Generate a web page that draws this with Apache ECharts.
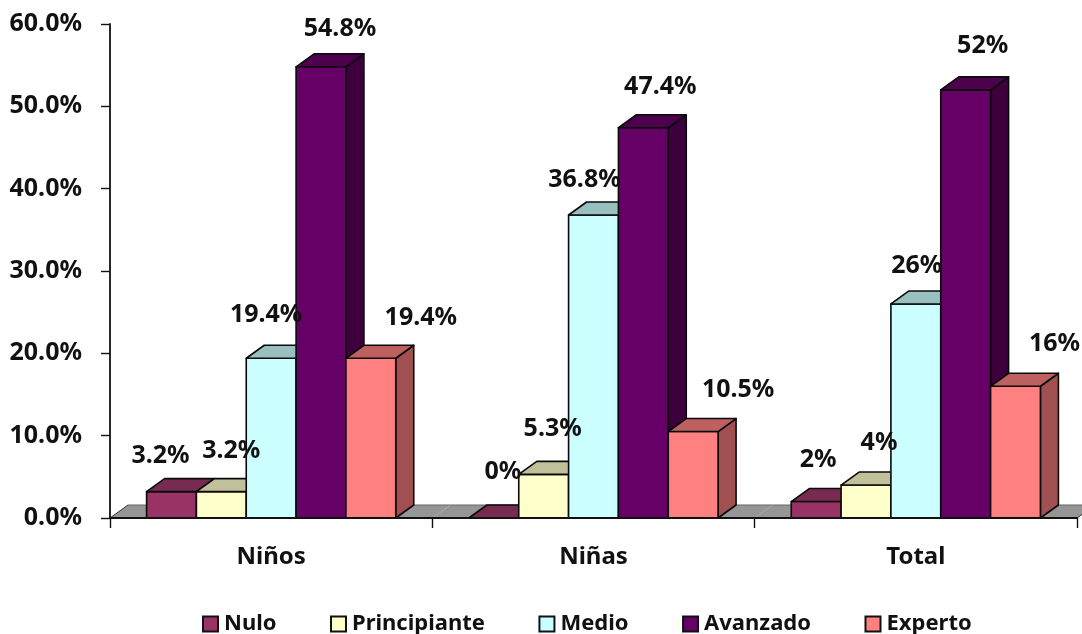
<!DOCTYPE html>
<html>
<head>
<meta charset="utf-8">
<style>html,body{margin:0;padding:0;background:#fff}#c{width:1082px;height:634px}</style>
<script src="https://cdn.jsdelivr.net/npm/echarts@6/dist/echarts.min.js"></script>
</head>
<body>
<div id="c"></div>
<script>
const categories = ['Niños', 'Niñas', 'Total'];
const seriesNames = ['Nulo', 'Principiante', 'Medio', 'Avanzado', 'Experto'];
const nulo = [3.2, 0, 2];
const principiante = [3.2, 5.3, 4];
const medio = [19.4, 36.8, 26];
const avanzado = [54.8, 47.4, 52];
const experto = [19.4, 10.5, 16];
const yTicks = { min: 0, max: 60, interval: 10 };

const allValues = [nulo, principiante, medio, avanzado, experto];
const front = ['#993366', '#FFFFCC', '#CCFFFF', '#660066', '#FF8080'];
const top3d = ['#772B50', '#C0C09A', '#99BFBF', '#4D004D', '#BF6060'];
const side3d = ['#662244', '#A8A888', '#88AAAA', '#3D003D', '#A05050'];
// Manual placement of each data label relative to its bar (as Excel had them dragged)
const labelNudge = [
  [[-11, -36], [10, -41], [-5, -43], [19, -38], [50, -40]],
  [[9, -46], [9, -45], [-9, -35], [17, -41], [45, -42]],
  [[2, -42], [13, -42], [1, -38], [17, -44], [39, -42]]
];
const DX = 18, DY = 13, FONT = '"Noto Sans"';
const EDGE = { stroke: '#0a0a0a', lineWidth: 1.6, lineJoin: 'round' };

function poly(points, fill, z2) {
  return { type: 'polygon', z2: z2 || 0, shape: { points }, style: Object.assign({ fill }, EDGE) };
}

function barRenderer(si) {
  return function (params, api) {
    const i = api.value(0), v = api.value(1);
    const band = api.size([1, 0])[0];
    const w = band * 0.1546;
    const base = api.coord([i, 0]);
    const head = api.coord([i, v]);
    const x0 = base[0] - 2.5 * w + si * w, x1 = x0 + w;
    const yb = base[1], yt = head[1];
    const kids = [];
    if (v > 0) {
      kids.push(poly([[x1, yt], [x1 + DX, yt - DY], [x1 + DX, yb - DY], [x1, yb]], side3d[si]));
      kids.push(poly([[x0, yb], [x1, yb], [x1, yt], [x0, yt]], front[si]));
    }
    kids.push(poly([[x0, yt], [x0 + DX, yt - DY], [x1 + DX, yt - DY], [x1, yt]], top3d[si]));
    const n = labelNudge[i][si];
    kids.push({
      type: 'text', z2: 100,
      style: {
        x: (x0 + x1) / 2 + n[0], y: yt + n[1],
        text: v + '%', align: 'center', verticalAlign: 'middle',
        font: 'bold 25px ' + FONT, fill: '#111'
      }
    });
    return { type: 'group', children: kids };
  };
}

function floorRenderer(params, api) {
  const i = api.value(0);
  const band = api.size([1, 0])[0];
  const c = api.coord([i, 0]);
  const x0 = c[0] - band / 2, x1 = c[0] + band / 2, y = c[1];
  const kids = [{
    type: 'polygon',
    shape: { points: [[x0, y], [x0 + DX, y - DY], [x1 + DX, y - DY], [x1, y]] },
    style: { fill: '#969696', stroke: null }
  }, {
    type: 'line', shape: { x1: x0 + DX, y1: y - DY, x2: x1 + DX, y2: y - DY },
    style: { stroke: '#666', lineWidth: 1 }
  }];
  if (i === 0) kids.push({ type: 'line', shape: { x1: x0, y1: y, x2: x0 + DX, y2: y - DY }, style: { stroke: '#333', lineWidth: 1 } });
  if (i === categories.length - 1) kids.push({ type: 'line', shape: { x1: x1, y1: y, x2: x1 + DX, y2: y - DY }, style: { stroke: '#333', lineWidth: 1 } });
  return { type: 'group', children: kids };
}

const series = [{
  type: 'custom', name: '__floor', renderItem: floorRenderer, z: 1, silent: true,
  data: categories.map((c, i) => [i]), encode: { x: 0 }
}].concat(seriesNames.map((name, si) => ({
  type: 'custom', name, z: 2, renderItem: barRenderer(si),
  itemStyle: { color: front[si] },
  data: allValues[si].map((v, i) => [i, v]), encode: { x: 0, y: 1 }
})));

const chart = echarts.init(document.getElementById('c'), null, { renderer: 'canvas' });
chart.setOption({
  animation: false,
  backgroundColor: '#fff',
  grid: { left: 110, right: 5, top: 24, bottom: 116 },
  xAxis: {
    type: 'category', data: categories, z: 5,
    axisLine: { lineStyle: { color: '#111', width: 1.8 } },
    axisTick: { show: true, alignWithLabel: false, length: 10, lineStyle: { color: '#111', width: 1.4 } },
    axisLabel: { color: '#111', fontFamily: FONT, fontWeight: 'bold', fontSize: 24, margin: 27 }
  },
  yAxis: {
    type: 'value', min: yTicks.min, max: yTicks.max, interval: yTicks.interval, z: 5,
    splitLine: { show: false },
    axisLine: { show: true, lineStyle: { color: '#111', width: 1.8 } },
    axisTick: { show: true, length: 9, lineStyle: { color: '#111', width: 1.4 } },
    axisLabel: { color: '#111', fontFamily: FONT, fontWeight: 'bold', fontSize: 25, margin: 28, padding: [4, 0, 0, 0],
      formatter: v => v.toFixed(1) + '%' }
  },
  legend: {
    data: seriesNames, left: 197, top: 608, itemGap: 53.5, itemWidth: 15, itemHeight: 15, icon: 'rect',
    selectedMode: false,
    itemStyle: { borderColor: '#111', borderWidth: 2 },
    textStyle: { color: '#111', fontFamily: FONT, fontWeight: 'bold', fontSize: 22, padding: [0, 0, 0, 1] }
  },
  series
});
</script>
</body>
</html>
